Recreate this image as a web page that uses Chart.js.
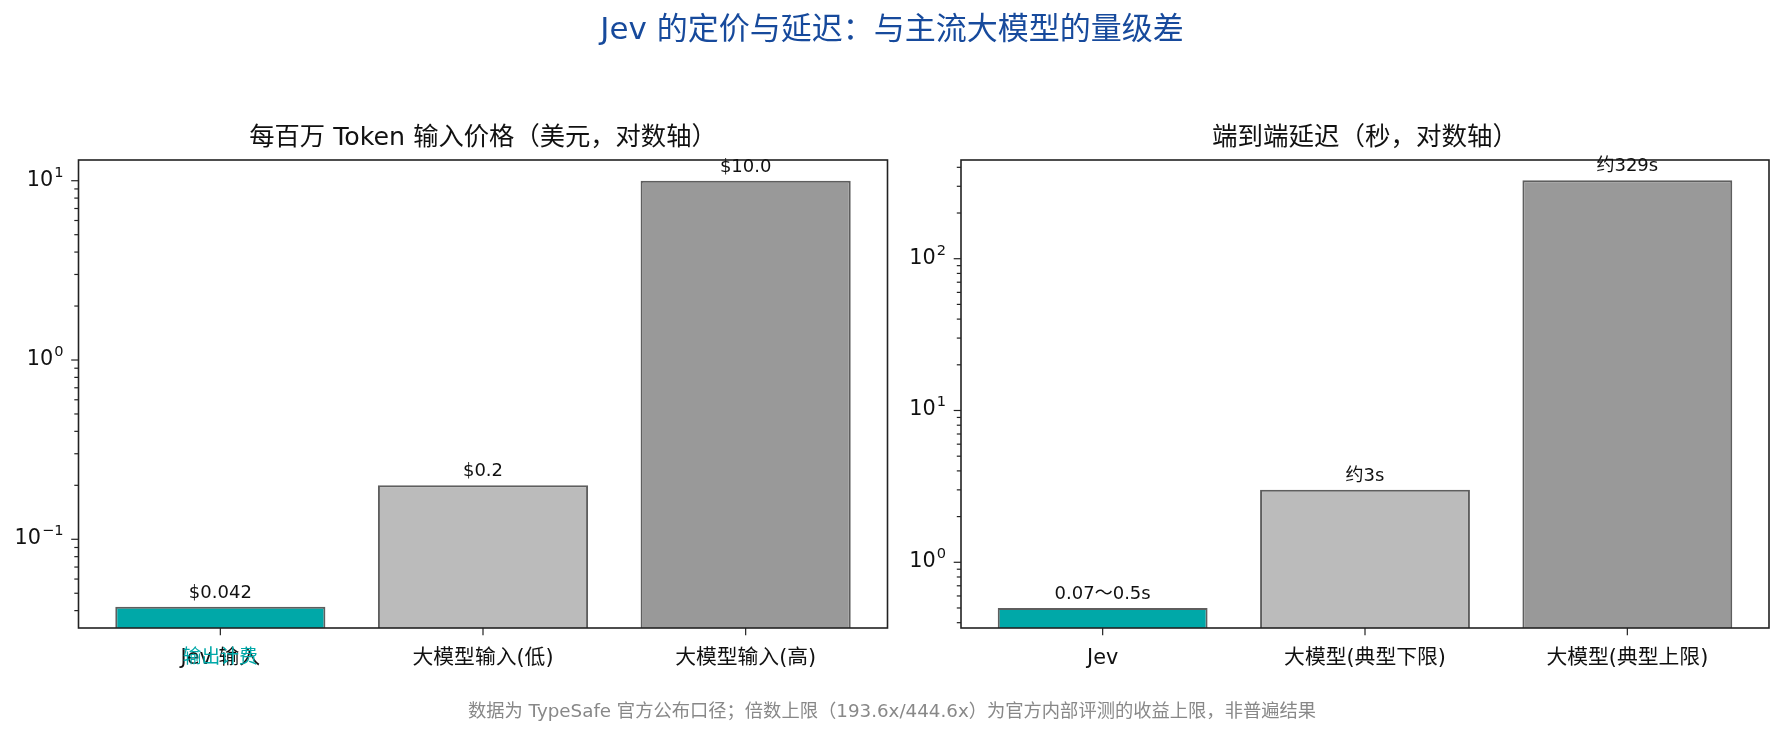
<!DOCTYPE html>
<html>
<head>
<meta charset="utf-8">
<script src="https://cdn.jsdelivr.net/npm/chart.js@4.4.1/dist/chart.umd.min.js"></script>
<style>
body { margin: 0; background: #fff; }
#fig { position: relative; width: 1784px; height: 738px; overflow: hidden; background: #fff; }
canvas { position: absolute; top: 0; }
.txt { position: absolute; white-space: nowrap; line-height: 1; transform: translate(-50%, -50%);
       font-family: "DejaVu Sans", "Noto Sans CJK SC", sans-serif; }
</style>
</head>
<body>
<div id="fig">
  <canvas id="price" width="892" height="738" style="left:0"></canvas>
  <canvas id="latency" width="892" height="738" style="left:892px"></canvas>
  <div class="txt" style="left:892px; top:28px; font-size:31px; color:#174a9c;">Jev 的定价与延迟：与主流大模型的量级差</div>
  <div class="txt" style="left:483px; top:137px; font-size:25.3px; color:#111;">每百万 Token 输入价格（美元，对数轴）</div>
  <div class="txt" style="left:1365px; top:137px; font-size:25.5px; color:#111;">端到端延迟（秒，对数轴）</div>
  <div class="txt" style="left:892px; top:711px; font-size:18.3px; color:#888;">数据为 TypeSafe 官方公布口径；倍数上限（193.6x/444.6x）为官方内部评测的收益上限，非普遍结果</div>
</div>
<script>
// data
const priceLabels = ['Jev 输入', '大模型输入(低)', '大模型输入(高)'];
const priceValues = [0.042, 0.2, 10.0];
const priceText = ['$0.042', '$0.2', '$10.0'];
const priceNote = '输出计费';

const latencyLabels = ['Jev', '大模型(典型下限)', '大模型(典型上限)'];
const latencyValues = [0.5, 3, 329];
const latencyText = ['0.07～0.5s', '约3s', '约329s'];

const barColors = ['#00a8a8', '#bbbbbb', '#999999'];
const teal = '#00a8a8';
const FONT = '"DejaVu Sans", "Noto Sans CJK SC", sans-serif';

// draws the frame, log ticks, category labels and bar values (matplotlib look)
const axesPlugin = {
    id: 'axesDeco',
    afterDraw(chart) {
        const o = chart.options.plugins.axesDeco;
        const ctx = chart.ctx;
        const a = chart.chartArea;
        const xs = chart.scales.x, ys = chart.scales.y;
        ctx.save();
        ctx.strokeStyle = '#222';
        ctx.fillStyle = '#111';
        ctx.lineWidth = 1.6;
        ctx.strokeRect(a.left, a.top, a.right - a.left, a.bottom - a.top);

        // y ticks (log)
        ctx.lineWidth = 1.2;
        const e0 = Math.floor(Math.log10(ys.min)), e1 = Math.ceil(Math.log10(ys.max));
        for (let e = e0; e <= e1; e++) {
            for (let m = 1; m < 10; m++) {
                const v = m * Math.pow(10, e);
                if (v < ys.min || v > ys.max) continue;
                const y = ys.getPixelForValue(v);
                ctx.beginPath();
                ctx.moveTo(a.left, y);
                ctx.lineTo(a.left - (m === 1 ? 7.3 : 4.2), y);
                ctx.stroke();
                if (m === 1) {
                    const exp = e < 0 ? '\u2212' + (-e) : String(e);
                    const xr = a.left - 15;
                    ctx.textAlign = 'right';
                    ctx.textBaseline = 'alphabetic';
                    ctx.font = '14.6px ' + FONT;
                    const w = ctx.measureText(exp).width;
                    ctx.fillText(exp, xr, y - 4);
                    ctx.font = '20.8px ' + FONT;
                    ctx.fillText('10', xr - w - 1, y + 5);
                }
            }
        }

        // x ticks + category labels
        ctx.textAlign = 'center';
        ctx.textBaseline = 'alphabetic';
        o.labels.forEach((lab, i) => {
            const x = xs.getPixelForValue(i);
            ctx.beginPath();
            ctx.moveTo(x, a.bottom);
            ctx.lineTo(x, a.bottom + 7.3);
            ctx.stroke();
            ctx.fillStyle = '#111';
            ctx.font = '20.8px ' + FONT;
            ctx.fillText(lab, x, a.bottom + 36);
        });
        if (o.note) {
            ctx.fillStyle = teal;
            ctx.font = '18.75px ' + FONT;
            ctx.fillText(o.note, xs.getPixelForValue(0), a.bottom + 35);
        }

        // value labels above bars
        ctx.fillStyle = '#111';
        ctx.font = '18px ' + FONT;
        o.values.forEach((v, i) => {
            ctx.fillText(o.texts[i], xs.getPixelForValue(i), ys.getPixelForValue(v) - 9);
        });
        ctx.restore();
    }
};

function makeChart(id, labels, values, texts, yMin, yMax, padLeft, padRight, note) {
    return new Chart(document.getElementById(id), {
        type: 'bar',
        data: {
            datasets: [{
                data: values.map((v, i) => ({ x: i, y: v })),
                backgroundColor: barColors,
                borderColor: '#5e5e5e',
                borderWidth: 2,
                borderSkipped: 'start',
                barPercentage: 1,
                categoryPercentage: 0.8
            }]
        },
        options: {
            responsive: false,
            animation: false,
            devicePixelRatio: 1,
            layout: { padding: { left: padLeft, right: padRight, top: 160, bottom: 110 } },
            plugins: {
                legend: { display: false },
                tooltip: { enabled: false },
                axesDeco: { labels: labels, values: values, texts: texts, note: note }
            },
            scales: {
                x: {
                    type: 'linear', min: -0.54, max: 2.54, offset: false, display: false,
                    ticks: { stepSize: 1, includeBounds: false }
                },
                y: { type: 'logarithmic', min: yMin, max: yMax, display: false }
            }
        },
        plugins: [axesPlugin]
    });
}

makeChart('price', priceLabels, priceValues, priceText, 0.032, 13.05, 78.5, 4.5, priceNote);
makeChart('latency', latencyLabels, latencyValues, latencyText, 0.369, 447, 69, 15, null);
</script>
</body>
</html>
